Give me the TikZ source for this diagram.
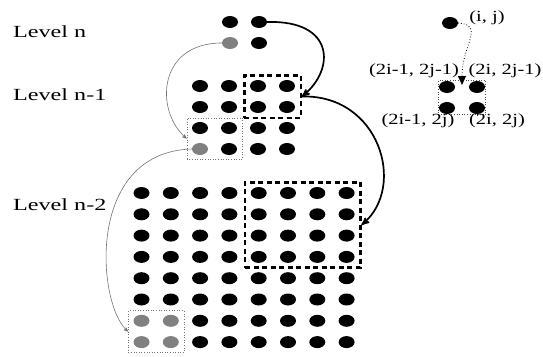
\documentclass[tikz,border=0pt]{standalone}
\usepackage{fontspec}
\setmainfont{Liberation Serif}
\usepackage{graphicx}
\usetikzlibrary{arrows,arrows.meta,shapes.geometric,fit,positioning}
\newcommand{\widetext}[2][1.42]{\scalebox{#1}[1]{#2}}

\begin{document}
\begin{tikzpicture}[x=1pt,y=1pt,>=stealth',
        dot/.style={ellipse,fill=black,minimum width=16pt,minimum height=12pt,inner sep=0pt},
        gray dot/.style={dot,fill=black!50},
        level/.style={font=\fontsize{17}{20}\selectfont,anchor=base west,inner sep=0pt},
        coord/.style={font=\fontsize{15.5}{18}\selectfont,inner sep=0pt},
        big box/.style={draw,line width=2.4pt,dash pattern=on 5pt off 3.5pt,inner xsep=5.5pt,inner ysep=4.5pt},
        small box/.style={draw=black!55,line width=0.6pt,dotted,inner xsep=5pt,inner ysep=4pt},
        big arrow/.style={->,line width=1.7pt},
        thin arrow/.style={->,black!55,line width=0.6pt}]
        \useasboundingbox (0,0) rectangle (543,-356);
        % labels of the levels
        \node[level] (ln) at (13,-37) {\widetext{Level n}};
        \node[level] (ln1) at (13,-100) {\widetext{Level n-1}};
        \node[level] (ln2) at (13,-210) {\widetext{Level n-2}};
        % level n
        \node[dot] (n1) at (230,-22) {};
        \node[dot] (n2) at (259,-22) {};
        \node[gray dot] (n3) at (230,-43) {};
        \node[dot] (n4) at (259,-43) {};
        % level n-1
        \foreach \i in {1,...,4}
          \foreach \j in {1,...,4} {
            \ifnum\i\j=14 \def\kind{gray dot}\else\def\kind{dot}\fi
            \node[\kind] (m\i\j) at ({200+29*(\i-1)},{-86-21*(\j-1)}) {};
          }
        % level n-2
        \foreach \i in {1,...,8}
          \foreach \j in {1,...,8} {
            \def\kind{dot}
            \ifnum\i<3 \ifnum\j>6 \def\kind{gray dot}\fi\fi
            \node[\kind] (p\i\j) at ({141.5+29.3*(\i-1)},{-193-21.3*(\j-1)}) {};
          }
        % boxes
        \node[big box,fit=(m31)(m42)] (bigbox1) {};
        \node[big box,fit=(p51)(p84)] (bigbox2) {};
        \node[small box,fit=(m13)(m24)] (smallbox1) {};
        \node[small box,fit=(p17)(p28)] (smallbox2) {};
        % arrows between levels
        \draw[big arrow] (n2.east) .. controls +(68,2) and +(33,27) .. (bigbox1.east);
        \draw[big arrow] (bigbox1.east) .. controls +(78,2) and +(45,38) .. (bigbox2.east);
        \draw[thin arrow] (n3.west) .. controls +(-64,0) and +(-32,28) .. (smallbox1.west);
        \draw[thin arrow] (m14.west) .. controls +(-107,-3) and +(-31,27) .. (smallbox2.west);
        % legend
        \node[dot] (ij) at (450,-23) {};
        \node[coord] (ijlabel) at (487,-18) {\widetext[1.32]{(i, j)}};
        \node[dot] (l11) at (447,-87) {};
        \node[dot] (l21) at (477,-87) {};
        \node[dot] (l12) at (447,-108) {};
        \node[dot] (l22) at (477,-108) {};
        \node[draw=black!70,dotted,line width=0.6pt,inner sep=0.5pt,fit=(l11)(l22)] (lbox) {};
        \node[coord] (c11) at (414,-71) {\widetext[1.32]{(2i-1, 2j-1)}};
        \node[coord] (c21) at (505,-71) {\widetext[1.32]{(2i, 2j-1)}};
        \node[coord] (c12) at (418,-121) {\widetext[1.32]{(2i-1, 2j)}};
        \node[coord] (c22) at (497,-121) {\widetext[1.32]{(2i, 2j)}};
        \draw[-{Triangle[length=9pt,width=8pt,sep=0pt]},dotted,line width=0.8pt] (ij.east) .. controls +(27,-2) and +(0,40) .. ([yshift=-5pt]lbox.north);
\end{tikzpicture}
\end{document}
